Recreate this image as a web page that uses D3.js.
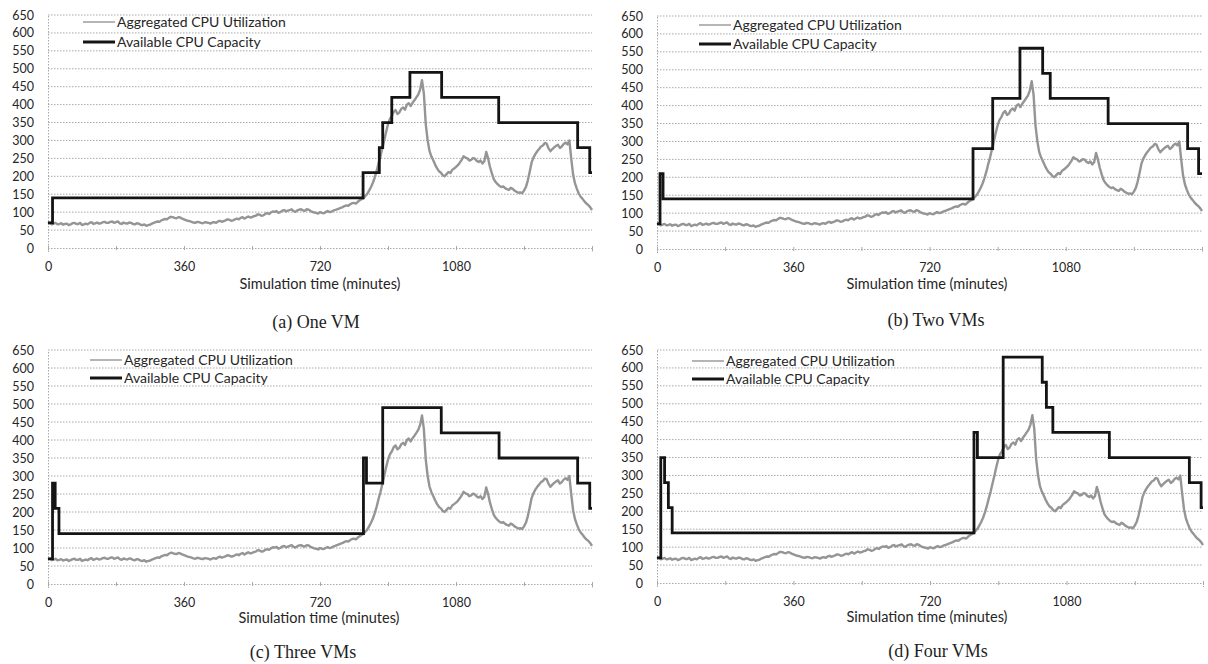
<!DOCTYPE html>
<html>
<head>
<meta charset="utf-8">
<script src="https://cdn.jsdelivr.net/npm/d3@7"></script>
<style>
  body { margin: 0; background: #fff; }
  svg { display: block; }
</style>
</head>
<body>
<svg id="chart" width="1208" height="664"></svg>
<script>
// Aggregated CPU utilization, one sample every 5 minutes over the 24h run
const utilStepMinutes = 5;
const utilization = [
  68, 71, 66, 68, 70, 66, 67, 69, 65, 67, 68, 64, 66, 69, 70, 67, 67, 70, 64, 66, 68,
  66, 70, 72, 67, 69, 71, 68, 69, 72, 73, 70, 70, 73, 74, 70, 72, 74, 69, 67, 71,
  69, 68, 71, 70, 67, 66, 69, 68, 65, 64, 66, 62, 64, 65, 68, 70, 72, 74, 73, 77,
  79, 81, 80, 84, 87, 86, 84, 83, 86, 85, 82, 80, 78, 76, 75, 73, 71, 70, 73, 72,
  70, 69, 72, 71, 70, 68, 71, 72, 70, 74, 76, 73, 75, 77, 80, 79, 76, 77, 80, 82,
  80, 84, 86, 82, 85, 88, 85, 86, 89, 90, 94, 93, 90, 91, 95, 97, 95, 99, 102, 101,
  103, 98, 100, 104, 106, 102, 104, 106, 108, 103, 101, 105, 107, 108, 105, 104, 108, 107, 103, 101,
  99, 98, 96, 100, 98, 97, 100, 103, 100, 101, 104, 106, 108, 110, 112, 114, 117, 119, 118, 122,
  125, 126, 124, 129, 133, 136, 139, 145, 151, 160, 170, 182, 197, 215, 236, 255, 278, 300, 324, 345,
  360, 368, 380, 385, 374, 378, 388, 392, 386, 400, 404, 396, 405, 412, 420, 428, 442, 468, 430, 345,
  300, 270, 255, 244, 232, 222, 214, 210, 203, 200, 206, 212, 209, 218, 222, 226, 231, 238, 246, 256,
  252, 250, 244, 246, 251, 249, 243, 240, 244, 236, 242, 268, 250, 226, 208, 192, 184, 178, 173, 170,
  172, 167, 164, 162, 168, 165, 160, 157, 154, 155, 153, 160, 170, 188, 212, 238, 252, 262, 270, 276,
  283, 286, 293, 291, 278, 270, 276, 281, 285, 288, 279, 283, 290, 294, 289, 300, 250, 205, 180, 165,
  152, 143, 137, 130, 124, 120, 114, 106
];

// Available CPU capacity: [minute, capacity] at each change
const capacityOneVM = [[0, 70], [12, 140], [834, 210], [877, 280], [886, 350], [910, 420], [958, 490], [1042, 420], [1193, 350], [1402, 280], [1434, 210]];
const capacityTwoVMs = [[0, 70], [8, 210], [16, 140], [835, 280], [887, 420], [959, 560], [1019, 490], [1039, 420], [1192, 350], [1402, 280], [1431, 210]];
const capacityThreeVMs = [[0, 70], [12, 280], [19, 210], [29, 140], [835, 350], [843, 280], [886, 490], [1041, 420], [1194, 350], [1402, 280], [1434, 210]];
const capacityFourVMs = [[0, 70], [10, 350], [20, 280], [30, 210], [40, 140], [836, 420], [845, 350], [913, 630], [1016, 560], [1027, 490], [1044, 420], [1193, 350], [1404, 280], [1435, 210]];

const yTickValues = [0, 50, 100, 150, 200, 250, 300, 350, 400, 450, 500, 550, 600, 650];
const xTickValues = [0, 180, 360, 540, 720, 900, 1080, 1260, 1440];
const xTickLabels = [0, 360, 720, 1080];
const seriesNames = ["Aggregated CPU Utilization", "Available CPU Capacity"];
const xAxisTitle = "Simulation time (minutes)";
const captions = ["(a) One VM", "(b) Two VMs", "(c) Three VMs", "(d) Four VMs"];
const capacities = [capacityOneVM, capacityTwoVMs, capacityThreeVMs, capacityFourVMs];

// Panel frames (plot area in px) and text offsets
const frames = [
  { left: 48,  right: 592,  top: 15,  bottom: 248, legendX: 35, legendY: [7, 27],  titleX: 320, titleDy: 37, capX: 316, capDy: 74 },
  { left: 657, right: 1202, top: 16,  bottom: 249, legendX: 42, legendY: [9, 28],  titleX: 927, titleDy: 36, capX: 936, capDy: 71 },
  { left: 48,  right: 592,  top: 350, bottom: 584, legendX: 42, legendY: [10, 28], titleX: 319, titleDy: 35, capX: 303, capDy: 68 },
  { left: 657, right: 1203, top: 350, bottom: 583, legendX: 35, legendY: [11, 29], titleX: 927, titleDy: 35, capX: 938, capDy: 68 }
];

const FONT = "Lato, 'Open Sans', sans-serif";
const GRID = "#a9a9a9";
const TEXT = "#262626";
const UTIL_COLOR = "#959595";
const CAP_COLOR = "#141414";

const svg = d3.select("#chart");
svg.append("rect").attr("width", 1208).attr("height", 664).attr("fill", "#fff");

const utilPoints = utilization.map((v, i) => [i * utilStepMinutes, v]);

frames.forEach((f, k) => {
  const x = d3.scaleLinear().domain([0, 1440]).range([f.left, f.right]);
  const y = d3.scaleLinear().domain([0, 650]).range([f.bottom, f.top]);
  const g = svg.append("g");

  // horizontal dotted gridlines
  g.append("g").selectAll("line").data(yTickValues.filter(d => d > 0)).join("line")
    .attr("x1", f.left).attr("x2", f.right)
    .attr("y1", d => y(d)).attr("y2", d => y(d))
    .attr("stroke", GRID).attr("stroke-width", 1).attr("stroke-dasharray", "1.5,1.5");

  // y axis (dotted spine, labels only)
  const yAxis = g.append("g").attr("transform", `translate(${f.left},0)`)
    .call(d3.axisLeft(y).tickValues(yTickValues).tickSize(0).tickPadding(14));
  yAxis.select(".domain").attr("stroke", GRID).attr("stroke-dasharray", "1.5,1.5");
  yAxis.selectAll("text").attr("font-size", 12.5).attr("fill", TEXT).attr("font-family", FONT);

  // x axis
  const xAxis = g.append("g").attr("transform", `translate(0,${f.bottom})`)
    .call(d3.axisBottom(x).tickValues(xTickValues).tickSizeOuter(0).tickSize(4).tickPadding(10)
      .tickFormat(d => xTickLabels.includes(d) ? d : ""));
  xAxis.select(".domain").attr("stroke", GRID).attr("stroke-dasharray", "1.5,1.5");
  xAxis.selectAll(".tick line").attr("stroke", GRID).attr("transform", "translate(0,-2)");
  xAxis.selectAll("text").attr("font-size", 12.5).attr("fill", TEXT).attr("font-family", FONT);

  // axis title
  g.append("text").attr("x", f.titleX).attr("y", f.bottom + f.titleDy + 4)
    .attr("text-anchor", "middle").attr("font-family", FONT).attr("font-size", 14.5)
    .attr("fill", TEXT).text(xAxisTitle);

  // utilization trace
  g.append("path").datum(utilPoints)
    .attr("d", d3.line().x(d => x(d[0])).y(d => y(d[1])))
    .attr("fill", "none").attr("stroke", UTIL_COLOR).attr("stroke-width", 2.4)
    .attr("stroke-linejoin", "round");

  // capacity step line
  const cap = capacities[k].concat([[1440, capacities[k][capacities[k].length - 1][1]]]);
  g.append("path").datum(cap)
    .attr("d", d3.line().curve(d3.curveStepAfter).x(d => x(d[0])).y(d => y(d[1])))
    .attr("fill", "none").attr("stroke", CAP_COLOR).attr("stroke-width", 2.8)
    .attr("stroke-linejoin", "miter");

  // legend
  const lg = g.append("g").attr("transform", `translate(${f.left + f.legendX},${f.top})`);
  [UTIL_COLOR, CAP_COLOR].forEach((c, i) => {
    lg.append("line").attr("x1", 0).attr("x2", 32)
      .attr("y1", f.legendY[i]).attr("y2", f.legendY[i])
      .attr("stroke", i === 0 ? "#b5b5b5" : c).attr("stroke-width", i === 0 ? 2 : 3);
    lg.append("text").attr("x", 34).attr("y", f.legendY[i]).attr("dy", "0.35em")
      .attr("font-family", FONT).attr("font-size", 14).attr("fill", TEXT)
      .text(seriesNames[i]);
  });

  // caption
  g.append("text").attr("x", f.capX).attr("y", f.bottom + f.capDy + 6)
    .attr("text-anchor", "middle").attr("font-family", "'Liberation Serif', 'DejaVu Serif', serif")
    .attr("font-size", 18).attr("fill", "#1e1e1e").text(captions[k]);
});
</script>
</body>
</html>
